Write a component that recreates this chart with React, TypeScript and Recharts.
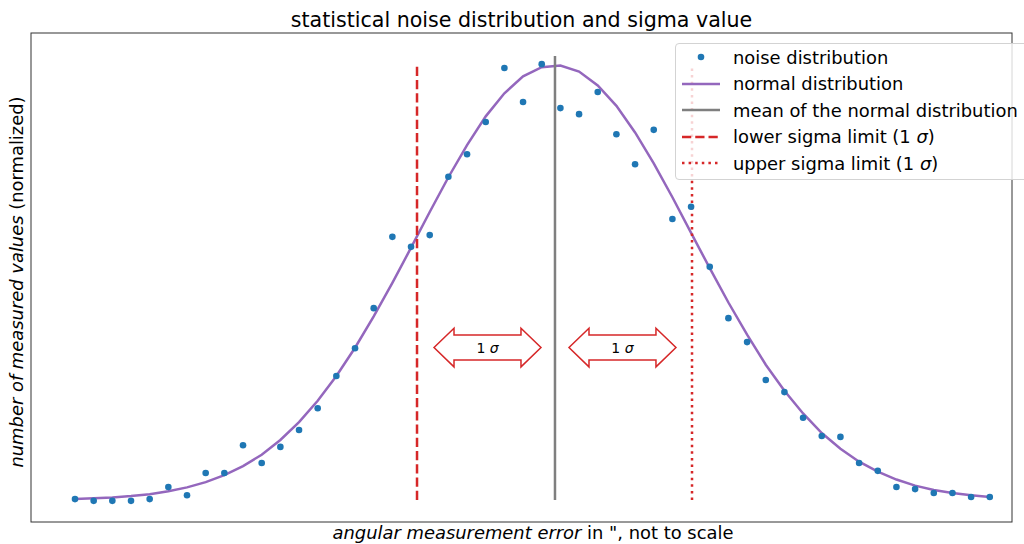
import { ComposedChart, Scatter, Line, XAxis, YAxis, ReferenceLine, ReferenceArea } from 'recharts'

// sample positions (arbitrary units, not to scale)
const samples = [
  0, 1, 2, 3, 4, 5, 6, 7, 8, 9, 10, 11, 12, 13, 14, 15, 16, 17, 18, 19, 20, 21, 22, 23, 24,
  25, 26, 27, 28, 29, 30, 31, 32, 33, 34, 35, 36, 37, 38, 39, 40, 41, 42, 43, 44, 45, 46, 47, 48, 49,
]

const noise = [
  0.002, -0.002, -0.002, -0.002, 0.002, 0.03, 0.011, 0.062, 0.062, 0.126,
  0.085, 0.122, 0.161, 0.211, 0.285, 0.349, 0.441, 0.605, 0.582, 0.609,
  0.743, 0.795, 0.869, 0.993, 0.915, 1.002, 0.901, 0.887, 0.938, 0.841,
  0.772, 0.851, 0.646, 0.674, 0.536, 0.418, 0.363, 0.276, 0.248, 0.189,
  0.147, 0.145, 0.085, 0.067, 0.03, 0.025, 0.016, 0.016, 0.007, 0.007,
]

const normal = [
  0.002, 0.004, 0.006, 0.009, 0.013, 0.02, 0.029, 0.041, 0.057, 0.078,
  0.104, 0.138, 0.179, 0.228, 0.285, 0.35, 0.422, 0.499, 0.58, 0.662,
  0.742, 0.816, 0.882, 0.935, 0.974, 0.995, 0.999, 0.985, 0.953, 0.906,
  0.845, 0.774, 0.696, 0.614, 0.533, 0.454, 0.38, 0.311, 0.251, 0.199,
  0.154, 0.118, 0.088, 0.065, 0.047, 0.033, 0.023, 0.016, 0.011, 0.007,
]

const mean = 25.71
const sigmaLow = 18.32
const sigmaHigh = 33.05
const meanTop = 1.021
const sigmaTop = 1.0

// double arrows marking 1 sigma on each side
const arrowSpans = [
  [19.23, 24.96],
  [26.46, 32.19],
]
const arrowY = [0.306, 0.395]

const xDomain = [-2.357, 50.19]
const yDomain = [-0.0506, 1.0736]

const data = samples.map((x, i) => ({ x, noise: noise[i], normal: normal[i] }))

const FONT = '"DejaVu Sans", sans-serif'
const RED = '#d62728'

const DoubleArrow = (props: any) => {
  const { x, y, width, height } = props
  const cy = y + height / 2
  const hh = height / 2
  const bh = hh * 0.65
  const hl = 20
  const pts = [
    [x, cy],
    [x + hl, cy - hh],
    [x + hl, cy - bh],
    [x + width - hl, cy - bh],
    [x + width - hl, cy - hh],
    [x + width, cy],
    [x + width - hl, cy + hh],
    [x + width - hl, cy + bh],
    [x + hl, cy + bh],
    [x + hl, cy + hh],
  ]
  return (
    <g>
      <polygon points={pts.map(p => p.join(',')).join(' ')} fill="#fff" stroke={RED} strokeWidth={1.5} />
      <text x={x + width / 2} y={cy + 5} textAnchor="middle" fontFamily={FONT} fontSize={14} fill="#000">
        1 <tspan fontStyle="italic">σ</tspan>
      </text>
    </g>
  )
}

// plot frame drawn over the full axes area
const Frame = (props: any) => {
  const { x, y, width, height } = props
  return <rect x={x} y={y} width={width} height={height} fill="none" stroke="#333" strokeWidth={1} />
}

const legendItems = [
  { label: 'noise distribution', kind: 'dot' },
  { label: 'normal distribution', kind: 'line', color: '#9467bd', dash: undefined },
  { label: 'mean of the normal distribution', kind: 'line', color: '#7f7f7f', dash: undefined },
  { label: 'lower sigma limit (1 ', kind: 'line', color: RED, dash: '9.25 4' },
  { label: 'upper sigma limit (1 ', kind: 'line', color: RED, dash: '2.5 4.1' },
]

export default function App() {
  return (
    <div style={{ position: 'absolute', left: 0, top: 0, width: 1024, height: 544, background: '#fff', overflow: 'hidden', fontFamily: FONT }}>
      <ComposedChart width={1024} height={544} data={data} margin={{ top: 33, right: 12, bottom: 22, left: 31 }}>
        <XAxis dataKey="x" type="number" domain={xDomain} allowDataOverflow tick={false} tickLine={false} axisLine={false} height={0} />
        <YAxis type="number" domain={yDomain} allowDataOverflow tick={false} tickLine={false} axisLine={false} width={0} />
        <ReferenceArea x1={xDomain[0]} x2={xDomain[1]} y1={yDomain[0]} y2={yDomain[1]} shape={Frame} />
        <Scatter
          dataKey="noise"
          isAnimationActive={false}
          shape={(p: any) => <circle cx={p.cx} cy={p.cy} r={3.3} fill="#1f77b4" />}
        />
        <Line dataKey="normal" type="linear" stroke="#9467bd" strokeWidth={2.5} dot={false} isAnimationActive={false} />
        <ReferenceLine segment={[{ x: mean, y: 0 }, { x: mean, y: meanTop }]} stroke="#7f7f7f" strokeWidth={2.5} />
        <ReferenceLine segment={[{ x: sigmaLow, y: 0 }, { x: sigmaLow, y: sigmaTop }]} stroke={RED} strokeWidth={2.5} strokeDasharray="9.25 4" />
        <ReferenceLine segment={[{ x: sigmaHigh, y: 0 }, { x: sigmaHigh, y: sigmaTop }]} stroke={RED} strokeWidth={2.5} strokeDasharray="2.5 4.1" />
        {arrowSpans.map(([a, b], i) => (
          <ReferenceArea key={i} x1={a} x2={b} y1={arrowY[0]} y2={arrowY[1]} shape={DoubleArrow} />
        ))}
      </ComposedChart>

      <svg width={1024} height={544} style={{ position: 'absolute', left: 0, top: 0, pointerEvents: 'none' }}>
        <text x={521.5} y={27} textAnchor="middle" fontFamily={FONT} fontSize={20.6} fill="#000">
          statistical noise distribution and sigma value
        </text>
        <text x={533} y={539} textAnchor="middle" fontFamily={FONT} fontSize={17.9} fill="#000">
          <tspan fontStyle="italic">angular measurement error</tspan> in ", not to scale
        </text>
        <text transform="translate(23,282) rotate(-90)" textAnchor="middle" fontFamily={FONT} fontSize={17.9} fill="#000">
          <tspan fontStyle="italic">number of measured values</tspan> (normalized)
        </text>
      </svg>

      {/* Legend */}
      <div
        style={{
          position: 'absolute',
          left: 675,
          top: 43,
          width: 356,
          height: 137,
          background: 'rgba(255,255,255,0.8)',
          border: '1px solid #d3d3d3',
          borderRadius: 4,
          boxSizing: 'border-box',
        }}
      >
        {legendItems.map((it, i) => (
          <div key={i} style={{ position: 'absolute', left: 0, top: 0 + i * 26.5, height: 26, display: 'flex', alignItems: 'center' }}>
            <svg width={56} height={26} style={{ flexShrink: 0 }}>
              {it.kind === 'dot' ? (
                <circle cx={25} cy={13} r={3.3} fill="#1f77b4" />
              ) : (
                <line x1={6} x2={44} y1={13} y2={13} stroke={it.color} strokeWidth={2.5} strokeDasharray={it.dash} />
              )}
            </svg>
            <span style={{ fontSize: 17.9, color: '#000', whiteSpace: 'nowrap', marginLeft: 1 }}>
              {it.label}
              {it.kind === 'line' && it.color === RED ? (
                <>
                  <i>σ</i>)
                </>
              ) : null}
            </span>
          </div>
        ))}
      </div>
    </div>
  )
}
